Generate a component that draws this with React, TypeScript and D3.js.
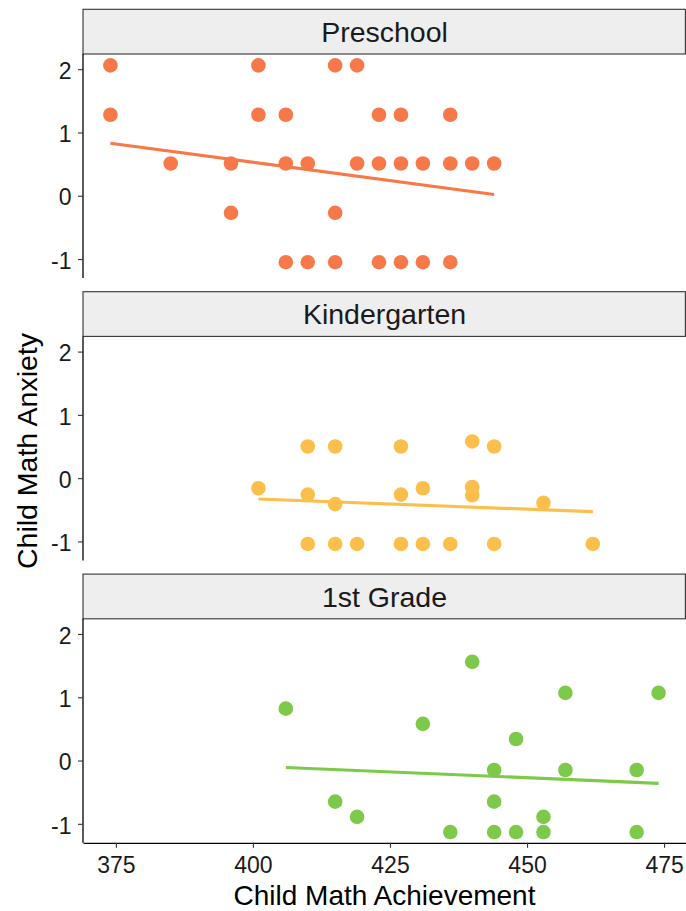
import React, { useEffect, useRef } from 'react'
import * as d3 from 'd3'

// facets
const grades = ['Preschool', 'Kindergarten', '1st Grade']
const gradeColors = ['#F7794A', '#FCBF4C', '#7DC94A']

// Child Math Achievement (x) / Child Math Anxiety (y), one pair of arrays per facet
const preschoolX = [374, 401, 415, 419, 374, 401, 406, 423, 427, 436, 385, 396, 406, 410, 419, 423, 427, 431, 436, 440, 444, 396, 415, 406, 410, 415, 423, 427, 431, 436]
const preschoolY = [2.06, 2.06, 2.06, 2.06, 1.28, 1.28, 1.28, 1.28, 1.28, 1.28, 0.51, 0.51, 0.51, 0.51, 0.51, 0.51, 0.51, 0.51, 0.51, 0.51, 0.51, -0.27, -0.27, -1.05, -1.05, -1.05, -1.05, -1.05, -1.05, -1.05]

const kinderX = [401, 410, 415, 427, 440, 444, 410, 415, 427, 431, 440, 440, 453, 410, 415, 419, 427, 431, 436, 444, 462]
const kinderY = [-0.16, 0.5, 0.5, 0.5, 0.58, 0.5, -0.26, -0.41, -0.26, -0.16, -0.14, -0.27, -0.39, -1.04, -1.04, -1.04, -1.04, -1.04, -1.04, -1.04, -1.04]

const firstX = [406, 440, 457, 474, 431, 448, 444, 457, 470, 415, 444, 419, 453, 436, 444, 448, 453, 470]
const firstY = [0.82, 1.56, 1.07, 1.07, 0.58, 0.34, -0.15, -0.15, -0.15, -0.65, -0.65, -0.89, -0.89, -1.13, -1.13, -1.13, -1.13, -1.13]

// fitted lm lines (end points)
const fitX = [[374, 444], [401, 462], [406, 474]]
const fitY = [[0.83, 0.02], [-0.33, -0.53], [-0.11, -0.36]]

const xTicks = [375, 400, 425, 450, 475]
const yTicks = [-1, 0, 1, 2]

const App = () => {
  const svgRef = useRef(null)
  const width = 686
  const height = 911
  const margin = { left: 83, right: 0, top: 9.3 }
  const stripH = 44.7
  const panelH = 224
  const panelStep = 282.4
  const font = '"Liberation Sans", Arial, Helvetica, sans-serif'

  useEffect(() => {
    const svg = d3.select(svgRef.current)
    svg.selectAll('*').remove()

    const xs = [preschoolX, kinderX, firstX]
    const ys = [preschoolY, kinderY, firstY]

    const xScale = d3.scaleLinear().domain([369, 479]).range([margin.left, width - margin.right])

    grades.forEach((grade, i) => {
      const top = margin.top + i * panelStep
      const pTop = top + stripH
      const pBottom = pTop + panelH
      const yScale = d3.scaleLinear().domain([-1.3, 2.24]).range([pBottom, pTop])
      const g = svg.append('g').attr('class', 'panel')

      // Strip
      g.append('rect')
        .attr('x', margin.left)
        .attr('y', top)
        .attr('width', width - margin.right - margin.left - 0.6)
        .attr('height', stripH)
        .attr('fill', '#EEEEEE')
        .attr('stroke', '#333')
        .attr('stroke-width', 1.1)
      g.append('text')
        .text(grade)
        .attr('x', (margin.left + width) / 2)
        .attr('y', top + stripH / 2 + 10.3)
        .attr('text-anchor', 'middle')
        .style('font-family', font)
        .style('font-size', '28.5px')
        .style('fill', '#1a1a1a')

      // Points
      const pts = d3.zip(xs[i], ys[i])
      g.append('g')
        .selectAll('circle')
        .data(pts)
        .join('circle')
        .attr('cx', (d) => xScale(d[0]))
        .attr('cy', (d) => yScale(d[1]))
        .attr('r', 7.3)
        .attr('fill', gradeColors[i])

      // Regression line
      const line = d3
        .line()
        .x((d) => xScale(d[0]))
        .y((d) => yScale(d[1]))
      g.append('path')
        .attr('d', line(d3.zip(fitX[i], fitY[i])))
        .attr('fill', 'none')
        .attr('stroke', gradeColors[i])
        .attr('stroke-width', 3.2)

      // Y axis
      const yAxis = g
        .append('g')
        .attr('transform', `translate(${margin.left}, 0)`)
        .call(
          d3
            .axisLeft(yScale)
            .tickValues(yTicks)
            .tickFormat((d) => String(d))
            .tickSize(5)
            .tickPadding(6.5)
            .tickSizeOuter(0)
        )
      yAxis.select('path.domain').attr('stroke', '#000').attr('stroke-width', 1.3).attr('d', `M0,${pTop}V${pBottom}`)
      yAxis.selectAll('.tick line').attr('stroke', '#333').attr('stroke-width', 1.1)
      yAxis
        .selectAll('.tick text')
        .attr('dy', '0.4em')
        .style('font-family', font)
        .style('font-size', '23px')
        .style('fill', '#1a1a1a')

      // X axis on the bottom panel only
      if (i === grades.length - 1) {
        const xAxis = g
          .append('g')
          .attr('transform', `translate(0, ${pBottom})`)
          .call(d3.axisBottom(xScale).tickValues(xTicks).tickFormat((d) => String(d)).tickSize(5).tickPadding(7).tickSizeOuter(0))
        xAxis.select('path.domain').attr('stroke', '#000').attr('stroke-width', 1.3)
        xAxis.selectAll('.tick line').attr('stroke', '#333').attr('stroke-width', 1.1)
        xAxis
          .selectAll('.tick text')
          .attr('dy', '0')
          .attr('y', 30.5)
          .style('font-family', font)
          .style('font-size', '23px')
          .style('fill', '#1a1a1a')

        svg
          .append('text')
          .text('Child Math Achievement')
          .attr('x', (margin.left + width) / 2)
          .attr('y', 905)
          .attr('text-anchor', 'middle')
          .style('font-family', font)
          .style('font-size', '28px')
          .style('fill', '#000')
      }
    })

    // Y title
    svg
      .append('text')
      .text('Child Math Anxiety')
      .attr('transform', 'translate(36.5, 451) rotate(-90)')
      .attr('text-anchor', 'middle')
      .style('font-family', font)
      .style('font-size', '28.5px')
      .style('fill', '#000')
  }, [])

  return (
    <svg
      ref={svgRef}
      width={width}
      height={height}
      viewBox={`0 0 ${width} ${height}`}
      style={{ position: 'absolute', left: 0, top: 0, background: '#fff' }}
    ></svg>
  )
}

export default App
